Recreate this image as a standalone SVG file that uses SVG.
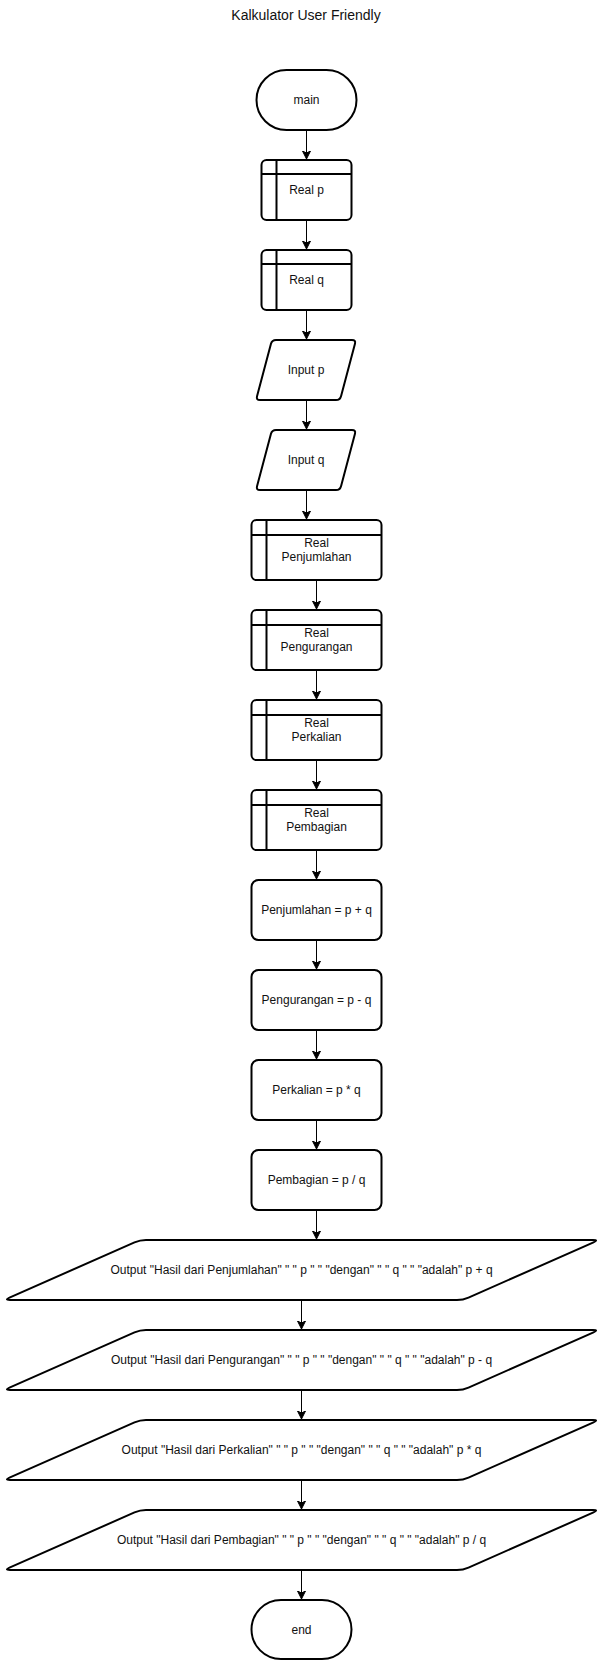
<svg xmlns="http://www.w3.org/2000/svg" width="602" height="1661" viewBox="0 0 602 1661">
<style>
.s{fill:#fff;stroke:#000;stroke-width:2;stroke-linejoin:round}
.l{fill:none;stroke:#000;stroke-width:2}
.t{font-family:"Liberation Sans",Arial,Helvetica,sans-serif;font-size:12px;fill:#111;text-anchor:middle}
.c{fill:none;stroke:#000;stroke-width:1}
</style>
<defs>
<marker id="a" markerUnits="userSpaceOnUse" markerWidth="10" markerHeight="10" refX="8" refY="4" orient="auto">
<path d="M0,0 L8,4 L0,8 L2,4 z" fill="#000" stroke="#000" stroke-width="1"/>
</marker>
</defs>
<rect width="602" height="1661" fill="#fff"/>
<text x="306" y="20" class="t" style="font-size:14px">Kalkulator User Friendly</text>

<g id="connectors">
<line class="c" x1="306.5" y1="130" x2="306.5" y2="159" marker-end="url(#a)"/>
<line class="c" x1="306.5" y1="220" x2="306.5" y2="249" marker-end="url(#a)"/>
<line class="c" x1="306.5" y1="310" x2="306.5" y2="339" marker-end="url(#a)"/>
<line class="c" x1="306.5" y1="400" x2="306.5" y2="429" marker-end="url(#a)"/>
<line class="c" x1="306.5" y1="490" x2="306.5" y2="519" marker-end="url(#a)"/>
<line class="c" x1="316.5" y1="580" x2="316.5" y2="609" marker-end="url(#a)"/>
<line class="c" x1="316.5" y1="670" x2="316.5" y2="699" marker-end="url(#a)"/>
<line class="c" x1="316.5" y1="760" x2="316.5" y2="789" marker-end="url(#a)"/>
<line class="c" x1="316.5" y1="850" x2="316.5" y2="879" marker-end="url(#a)"/>
<line class="c" x1="316.5" y1="940" x2="316.5" y2="969" marker-end="url(#a)"/>
<line class="c" x1="316.5" y1="1030" x2="316.5" y2="1059" marker-end="url(#a)"/>
<line class="c" x1="316.5" y1="1120" x2="316.5" y2="1149" marker-end="url(#a)"/>
<line class="c" x1="316.5" y1="1210" x2="316.5" y2="1239" marker-end="url(#a)"/>
<line class="c" x1="301.5" y1="1300" x2="301.5" y2="1329" marker-end="url(#a)"/>
<line class="c" x1="301.5" y1="1390" x2="301.5" y2="1419" marker-end="url(#a)"/>
<line class="c" x1="301.5" y1="1480" x2="301.5" y2="1509" marker-end="url(#a)"/>
<line class="c" x1="301.5" y1="1570" x2="301.5" y2="1599" marker-end="url(#a)"/>
</g>

<g id="main">
<rect class="s" x="256.5" y="70" width="100" height="60" rx="30"/>
<text x="306.5" y="104" class="t">main</text>
</g>
<g id="real-p">
<rect class="s" x="261.5" y="160" width="90" height="60" rx="5"/>
<path class="l" d="M276.5,160 V220 M261.5,174 H351.5"/>
<text x="306.5" y="194" class="t">Real p</text>
</g>
<g id="real-q">
<rect class="s" x="261.5" y="250" width="90" height="60" rx="5"/>
<path class="l" d="M276.5,250 V310 M261.5,264 H351.5"/>
<text x="306.5" y="284" class="t">Real q</text>
</g>
<g id="input-p">
<path class="s" d="M276,340 H352 Q356,340 354.97,343.86 L341.03,396.14 Q340,400 336,400 H260 Q256,400 257.03,396.14 L270.97,343.86 Q272,340 276,340 Z"/>
<text x="306" y="374" class="t">Input p</text>
</g>
<g id="input-q">
<path class="s" d="M276,430 H352 Q356,430 354.97,433.86 L341.03,486.14 Q340,490 336,490 H260 Q256,490 257.03,486.14 L270.97,433.86 Q272,430 276,430 Z"/>
<text x="306" y="464" class="t">Input q</text>
</g>
<g id="real-penjumlahan">
<rect class="s" x="251.5" y="520" width="130" height="60" rx="5"/>
<path class="l" d="M266.5,520 V580 M251.5,535 H381.5"/>
<text x="316.5" y="546.8" class="t">Real</text>
<text x="316.5" y="561.2" class="t">Penjumlahan</text>
</g>
<g id="real-pengurangan">
<rect class="s" x="251.5" y="610" width="130" height="60" rx="5"/>
<path class="l" d="M266.5,610 V670 M251.5,625 H381.5"/>
<text x="316.5" y="636.8" class="t">Real</text>
<text x="316.5" y="651.2" class="t">Pengurangan</text>
</g>
<g id="real-perkalian">
<rect class="s" x="251.5" y="700" width="130" height="60" rx="5"/>
<path class="l" d="M266.5,700 V760 M251.5,715 H381.5"/>
<text x="316.5" y="726.8" class="t">Real</text>
<text x="316.5" y="741.2" class="t">Perkalian</text>
</g>
<g id="real-pembagian">
<rect class="s" x="251.5" y="790" width="130" height="60" rx="5"/>
<path class="l" d="M266.5,790 V850 M251.5,805 H381.5"/>
<text x="316.5" y="816.8" class="t">Real</text>
<text x="316.5" y="831.2" class="t">Pembagian</text>
</g>
<g id="penjumlahan">
<rect class="s" x="251.5" y="880" width="130" height="60" rx="7"/>
<text x="316.5" y="914" class="t">Penjumlahan = p + q</text>
</g>
<g id="pengurangan">
<rect class="s" x="251.5" y="970" width="130" height="60" rx="7"/>
<text x="316.5" y="1004" class="t">Pengurangan = p - q</text>
</g>
<g id="perkalian">
<rect class="s" x="251.5" y="1060" width="130" height="60" rx="7"/>
<text x="316.5" y="1094" class="t">Perkalian = p * q</text>
</g>
<g id="pembagian">
<rect class="s" x="251.5" y="1150" width="130" height="60" rx="7"/>
<text x="316.5" y="1184" class="t">Pembagian = p / q</text>
</g>
<g id="output-penjumlahan">
<path class="s" d="M146,1240 H593 Q599,1240 593.51,1242.42 L468.49,1297.58 Q463,1300 457,1300 H10 Q4,1300 9.49,1297.58 L134.51,1242.42 Q140,1240 146,1240 Z"/>
<text x="301.5" y="1274" class="t">Output "Hasil dari Penjumlahan" " " p " " "dengan" " " q " " "adalah" p + q</text>
</g>
<g id="output-pengurangan">
<path class="s" d="M146,1330 H593 Q599,1330 593.51,1332.42 L468.49,1387.58 Q463,1390 457,1390 H10 Q4,1390 9.49,1387.58 L134.51,1332.42 Q140,1330 146,1330 Z"/>
<text x="301.5" y="1364" class="t">Output "Hasil dari Pengurangan" " " p " " "dengan" " " q " " "adalah" p - q</text>
</g>
<g id="output-perkalian">
<path class="s" d="M146,1420 H593 Q599,1420 593.51,1422.42 L468.49,1477.58 Q463,1480 457,1480 H10 Q4,1480 9.49,1477.58 L134.51,1422.42 Q140,1420 146,1420 Z"/>
<text x="301.5" y="1454" class="t">Output "Hasil dari Perkalian" " " p " " "dengan" " " q " " "adalah" p * q</text>
</g>
<g id="output-pembagian">
<path class="s" d="M146,1510 H593 Q599,1510 593.51,1512.42 L468.49,1567.58 Q463,1570 457,1570 H10 Q4,1570 9.49,1567.58 L134.51,1512.42 Q140,1510 146,1510 Z"/>
<text x="301.5" y="1544" class="t">Output "Hasil dari Pembagian" " " p " " "dengan" " " q " " "adalah" p / q</text>
</g>
<g id="end">
<rect class="s" x="251.5" y="1600" width="100" height="59" rx="29.5"/>
<text x="301.5" y="1633.5" class="t">end</text>
</g>
</svg>
